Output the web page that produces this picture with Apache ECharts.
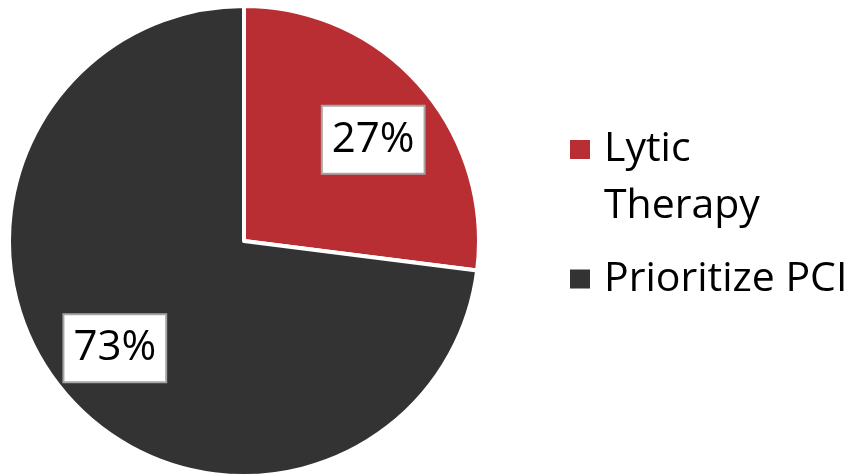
<!DOCTYPE html>
<html>
<head>
<meta charset="utf-8">
<script src="https://cdn.jsdelivr.net/npm/echarts@6/dist/echarts.min.js"></script>
<style>
  html, body { margin: 0; padding: 0; background: #fff; }
  #chart { width: 863px; height: 476px; }
</style>
</head>
<body>
<div id="chart"></div>
<script>
// Treatment choice shares
const categories = ['Lytic Therapy', 'Prioritize PCI'];
const shares = [27, 73];
const sliceColors = ['#B82E33', '#333333'];

const FONT = 'Open Sans';
const CX = 244, CY = 241, R = 235;

const pieData = categories.map((name, i) => ({
  name: name,
  value: shares[i],
  itemStyle: { color: sliceColors[i] }
}));
const labelData = categories.map((name, i) => ({ name: name, value: shares[i] }));

const legendText = {
  fontFamily: FONT,
  fontSize: 41,
  lineHeight: 56,
  color: '#000000',
  padding: [0, 0, 0, 8]
};

const chart = echarts.init(document.getElementById('chart'), null, { renderer: 'canvas' });

chart.setOption({
  animation: false,
  backgroundColor: '#ffffff',
  legend: [
    {
      data: [categories[0]],
      orient: 'vertical',
      left: 568,
      top: 64.5,
      padding: 0,
      selectedMode: false,
      icon: 'rect',
      itemWidth: 22,
      itemHeight: 21,
      // an empty leading line keeps the first text line level with the swatch
      formatter: name => '{sp| }\n{t|' + name.split(' ').join('}\n{t|') + '}',
      textStyle: Object.assign({}, legendText, {
        rich: {
          sp: { fontFamily: FONT, fontSize: 41, lineHeight: 56, color: '#000000' },
          t: { fontFamily: FONT, fontSize: 41, lineHeight: 57, color: '#000000' }
        }
      })
    },
    {
      data: [categories[1]],
      orient: 'vertical',
      left: 568,
      top: 251,
      padding: 0,
      selectedMode: false,
      icon: 'rect',
      itemWidth: 22,
      itemHeight: 21,
      textStyle: legendText
    }
  ],
  series: [
    {
      // the pie itself
      type: 'pie',
      center: [CX, CY],
      radius: [0, R],
      startAngle: 90,
      clockwise: true,
      silent: true,
      label: { show: false },
      labelLine: { show: false },
      itemStyle: { borderColor: '#ffffff', borderWidth: 4 },
      data: pieData
    },
    {
      // percentage labels on an invisible ring, set further out toward the rim
      type: 'pie',
      center: [CX, CY + 3],
      radius: [91, R],
      startAngle: 87.5,
      clockwise: true,
      silent: true,
      legendHoverLink: false,
      itemStyle: { color: 'rgba(0,0,0,0)', borderWidth: 0 },
      emphasis: { disabled: true },
      labelLine: { show: false },
      label: {
        show: true,
        position: 'inside',
        formatter: p => p.value + '%',
        fontFamily: FONT,
        fontSize: 42,
        lineHeight: 50,
        color: '#000000',
        backgroundColor: '#ffffff',
        borderColor: '#A6A6A6',
        borderWidth: 2,
        padding: [8, 9, 8, 9]
      },
      data: labelData
    }
  ]
});
</script>
</body>
</html>
